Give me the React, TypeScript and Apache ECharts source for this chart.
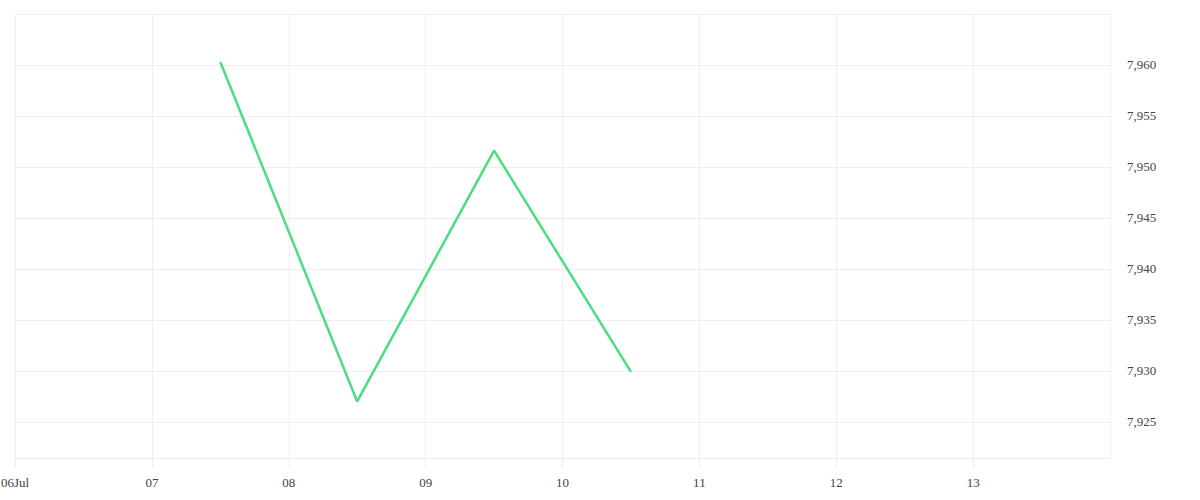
import { useEffect, useRef } from 'react'
import * as echarts from 'echarts'

// daily points, one per trading day (noon UTC)
const dates = [
  '2024-07-07T12:00:00Z',
  '2024-07-08T12:00:00Z',
  '2024-07-09T12:00:00Z',
  '2024-07-10T12:00:00Z',
]
const values = [7960.3, 7927.0, 7951.6, 7929.9]

const rangeStart = '2024-07-06T00:00:00Z'
const rangeEnd = '2024-07-14T00:00:00Z'
const monthLabel = 'Jul'

const yMin = 7921.45
const yMax = 7965
const yStep = 5

const DAY = 86400000
const gridColor = '#efefef'
const textColor = '#444'

export default function App() {
  const chartRef = useRef<HTMLDivElement>(null)

  useEffect(() => {
    if (!chartRef.current) return
    const chart = echarts.init(chartRef.current, undefined, { renderer: 'svg' })
    const start = Date.parse(rangeStart)

    chart.setOption({
      animation: false,
      useUTC: true,
      textStyle: { fontFamily: 'serif' },
      grid: {
        left: 15,
        top: 14,
        right: 90,
        bottom: 42,
        containLabel: false,
        outerBoundsMode: 'none',
      },
      xAxis: {
        type: 'time',
        min: start,
        max: Date.parse(rangeEnd),
        minInterval: DAY,
        maxInterval: DAY,
        axisLine: { show: true, lineStyle: { color: gridColor } },
        axisTick: { show: true, length: 10, lineStyle: { color: gridColor } },
        splitLine: { show: true, lineStyle: { color: gridColor } },
        axisLabel: {
          color: textColor,
          fontSize: 13,
          fontFamily: 'serif',
          margin: 18,
          showMaxLabel: false,
          hideOverlap: false,
          formatter: (v: number) => {
            const d = new Date(v)
            const day = String(d.getUTCDate()).padStart(2, '0')
            return v === start ? day + monthLabel : day
          },
        },
      },
      yAxis: {
        type: 'value',
        position: 'right',
        min: yMin,
        max: yMax,
        minInterval: yStep,
        maxInterval: yStep,
        scale: true,
        axisLine: { show: true, lineStyle: { color: gridColor } },
        axisTick: { show: false },
        splitLine: { show: true, lineStyle: { color: gridColor } },
        axisLabel: {
          color: textColor,
          fontSize: 13,
          fontFamily: 'serif',
          margin: 17,
          padding: [4, 0, 0, 0],
          showMinLabel: false,
          showMaxLabel: false,
          formatter: (v: number) => v.toLocaleString('en-US'),
        },
      },
      series: [
        {
          type: 'line',
          data: dates.map((d, i) => [d, values[i]]),
          showSymbol: false,
          lineStyle: { color: '#4ade80', width: 2.5 },
          itemStyle: { color: '#4ade80' },
        },
      ],
    })

    return () => chart.dispose()
  }, [])

  return (
    <div
      ref={chartRef}
      style={{ position: 'absolute', left: 0, top: 0, width: 1200, height: 500 }}
    />
  )
}
